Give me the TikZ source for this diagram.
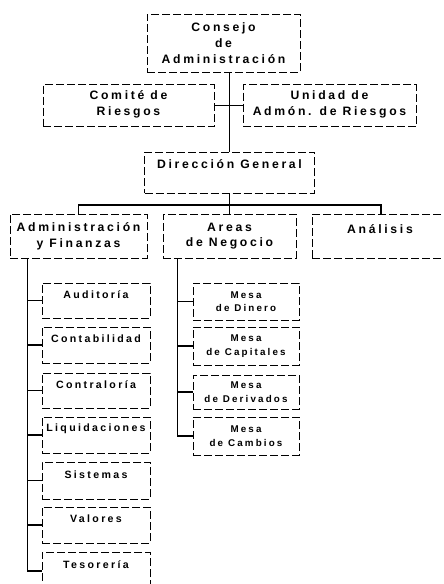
\documentclass[tikz,border=0pt]{standalone}
\usepackage{fontspec}
\setmainfont{Liberation Sans Bold}[LetterSpace=22]
\begin{document}
\begin{tikzpicture}[x=1pt,y=-1pt,
  box/.style={draw, line width=1pt, dash pattern=on 8pt off 3pt, inner sep=0pt, anchor=center},
  lbl/.style={inner sep=0pt, align=center, font=\fontsize{12.2}{15.8}\selectfont},
  sublbl/.style={inner sep=0pt, align=center, font=\fontsize{10.6}{13}\selectfont},
  mesalbl/.style={inner sep=0pt, align=center, font=\fontsize{9.8}{13.5}\selectfont},
  wire/.style={line width=1.1pt}]
\clip (0,0) rectangle (444,584);
\fill[white] (0,0) rectangle (444,584);

% top level boxes
\node[box, minimum width=153pt, minimum height=58pt] (consejo) at (223.5,43) {};
\node[lbl] (tconsejo) at (consejo.center) {Consejo\\de\\Administración};
\node[box, minimum width=171pt, minimum height=42pt] (comite) at (128.5,105.5) {};
\node[lbl] (tcomite) at ([yshift=1pt]comite.center) {Comité de\\Riesgos};
\node[box, minimum width=173pt, minimum height=42pt] (unidad) at (329.5,105.5) {};
\node[lbl] (tunidad) at ([yshift=1pt]unidad.center) {Unidad de\\Admón. de Riesgos};
\node[box, minimum width=170pt, minimum height=41pt] (direccion) at (229.5,172.5) {};
\node[lbl] (tdireccion) at ([yshift=8pt]direccion.center) {Dirección General};

% second level
\node[box, minimum width=137pt, minimum height=44pt] (admin) at (78.5,236) {};
\node[lbl] (tadmin) at (admin.center) {Administración\\y Finanzas};
\node[box, minimum width=133pt, minimum height=44pt] (areas) at (229.5,236) {};
\node[lbl] (tareas) at (areas.center) {Areas\\de Negocio};
\node[box, minimum width=136pt, minimum height=44pt] (analisis) at (380,236) {};
\node[lbl] (tanalisis) at ([xshift=0pt,yshift=7pt]analisis.center) {Análisis};

% administration departments
\foreach \n/\t/\y/\h in {auditoria/Auditoría/300.5/35, contab/Contabilidad/345/36,
    contral/Contraloría/390.5/35, liquid/Liquidaciones/435/36, sistemas/Sistemas/480.5/37,
    valores/Valores/525/36, tesoreria/Tesorería/571/38} {
  \node[box, minimum width=108pt, minimum height=\h pt] (\n) at (96,\y) {};
  \node[sublbl] (t\n) at ([yshift=6pt]\n.center) {\t};
}

% trading desks
\foreach \n/\t/\y/\h in {dinero/Dinero/301.5/37, capitales/Capitales/346/38,
    derivados/Derivados/392/34, cambios/Cambios/436/38} {
  \node[box, minimum width=106pt, minimum height=\h pt] (\n) at (246,\y) {};
  \node[mesalbl] (t\n) at (\n.center) {Mesa\\de \t};
}

% connectors
\draw[wire] (direccion.north |- consejo.south) -- (direccion.north);
\draw[wire] (comite.east) -- (unidad.west);
\coordinate (bus) at (0,205);
\draw[wire] (direccion.south) -- (areas.north);
\draw[wire] (admin.north) -- (admin.north |- bus) -- ([xshift=1pt]analisis.north |- bus) -- ([xshift=1pt]analisis.north);

\coordinate (spA) at ([xshift=18pt]admin.south west);
\draw[wire] (spA) |- (tesoreria.west);
\foreach \n in {auditoria,contab,contral,liquid,sistemas,valores}
  \draw[wire] (spA |- \n.west) -- (\n.west);

\coordinate (spB) at ([xshift=15pt]areas.south west);
\draw[wire] (spB) |- (cambios.west);
\foreach \n in {dinero,capitales,derivados}
  \draw[wire] (spB |- \n.west) -- (\n.west);
\end{tikzpicture}
\end{document}
